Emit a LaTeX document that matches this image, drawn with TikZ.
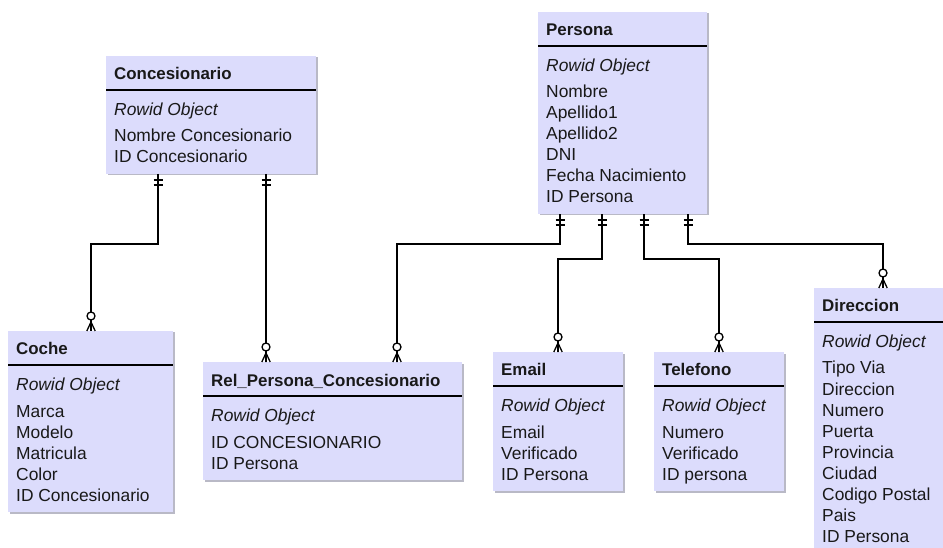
\documentclass[tikz,border=0pt]{standalone}
\usepackage{fontspec}
\setmainfont{Liberation Sans}
\usetikzlibrary{calc}
\definecolor{boxfill}{RGB}{220,220,252}
\definecolor{boxshadow}{RGB}{185,185,198}
\definecolor{txtcol}{RGB}{25,25,25}
\newcommand\fsz{\fontsize{17.4bp}{21bp}\selectfont}
\newcommand\tsz{\fontsize{16.9bp}{21bp}\selectfont}
\tikzset{
  erbox/.style={rectangle, fill=boxfill, inner sep=0pt, outer sep=0pt, anchor=north west},
  ershadow/.style={fill=boxshadow},
  txt/.style={anchor=base west, inner sep=0pt, font=\fsz, text=txtcol},
  ttl/.style={anchor=base west, inner sep=0pt, font=\tsz\bfseries, text=txtcol},
  rowid/.style={anchor=base west, inner sep=0pt, font=\fsz\itshape, text=txtcol},
  conn/.style={line width=1.3bp, black},
  divider/.style={line width=1.3bp, black},
  onebar/.pic={\draw[conn] (-4.5,6) -- (4.5,6) (-4.5,11) -- (4.5,11);},
  zeromany/.pic={\draw[conn] (0,-9) -- (-4.2,0) (0,-9) -- (0,0) (0,-9) -- (4.2,0);
                 \draw[conn, fill=white] (0,-15) circle (4);}
}
% name, x, y, width, height, title, attributes
\newcommand\erentity[7]{%
  \fill[ershadow] (#2+1.5,#3+1.5) rectangle ++(#4,#5);
  \node[erbox, minimum width=#4bp, minimum height=#5bp] (#1) at (#2,#3) {};
  \draw[divider] ($(#1.north west)+(0,34)$) -- ($(#1.north east)+(0,34)$);
  \node[ttl] (#1-t) at ($(#1.north west)+(8,24)$) {#6};
  \node[rowid] (#1-r) at ($(#1.north west)+(8,59.5)$) {Rowid Object};
  \foreach \a [count=\i from 0] in {#7}
    \node[txt] (#1-a\i) at ($(#1.north west)+(8,86+21*\i)$) {\a};
}
\begin{document}
\begin{tikzpicture}[x=1bp,y=-1bp]
\path[use as bounding box, fill=white] (0,0) rectangle (943,548);
\clip (0,0) rectangle (943,548);

\erentity{conc}{106}{56}{210}{118}{Concesionario}{Nombre Concesionario,ID Concesionario}
\erentity{pers}{538}{12}{169}{202}{Persona}{Nombre,Apellido1,Apellido2,DNI,Fecha Nacimiento,ID Persona}
\erentity{coche}{8}{331}{165}{181}{Coche}{Marca,Modelo,Matricula,Color,ID Concesionario}
\erentity{rel}{203}{362}{259}{118}{Rel\_Persona\_Concesionario}{ID CONCESIONARIO,ID Persona}
\erentity{email}{493}{352}{130}{139}{Email}{Email,Verificado,ID Persona}
\erentity{tel}{654}{352}{130}{139}{Telefono}{Numero,Verificado,ID persona}
\erentity{dir}{814}{288}{140}{265}{Direccion}{Tipo Via,Direccion,Numero,Puerta,Provincia,Ciudad,Codigo Postal,Pais,ID Persona}

\coordinate (railA) at (0,244);
\coordinate (railB) at (0,259);

% Concesionario -> Coche
\draw[conn] ($(conc.south west)+(52,0)$) coordinate (p1) -- (p1 |- railA) -| ($(coche.north west)+(83,0)$) coordinate (q1);
% Concesionario -> Rel
\draw[conn] ($(conc.south west)+(160,0)$) coordinate (p2) -- (p2 |- railA) -| ($(rel.north west)+(63,0)$) coordinate (q2);
% Persona -> Rel
\draw[conn] ($(pers.south west)+(22,0)$) coordinate (p3) -- (p3 |- railA) -| ($(rel.north west)+(194,0)$) coordinate (q3);
% Persona -> Email
\draw[conn] ($(pers.south west)+(64,0)$) coordinate (p4) -- (p4 |- railB) -| ($(email.north west)+(65,0)$) coordinate (q4);
% Persona -> Telefono
\draw[conn] ($(pers.south west)+(106,0)$) coordinate (p5) -- (p5 |- railB) -| ($(tel.north west)+(65,0)$) coordinate (q5);
% Persona -> Direccion
\draw[conn] ($(pers.south west)+(150,0)$) coordinate (p6) -- (p6 |- railA) -| ($(dir.north west)+(69,0)$) coordinate (q6);

\foreach \p in {p1,p2,p3,p4,p5,p6} \pic at (\p) {onebar};
\foreach \q in {q1,q2,q3,q4,q5,q6} \pic at (\q) {zeromany};
\end{tikzpicture}
\end{document}
